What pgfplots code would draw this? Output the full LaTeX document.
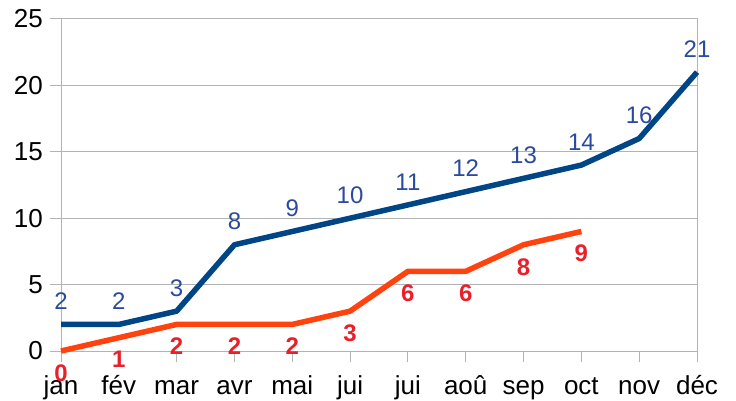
\documentclass[border=0pt]{standalone}
\usepackage{pgfplots}
\pgfplotsset{compat=1.18}
\usepackage{fontspec}
\setmainfont{Liberation Sans}
\definecolor{blueline}{HTML}{004586}
\definecolor{orangeline}{HTML}{FF420E}
\definecolor{bluelab}{HTML}{2A4A9C}
\definecolor{redlab}{HTML}{E8202A}
\definecolor{gridc}{HTML}{B3B3B3}
\begin{document}
\begin{tikzpicture}
\useasboundingbox (-61bp,-50bp) rectangle (675bp,351bp);
\begin{axis}[
  at={(0,0)}, anchor=south west,
  scale only axis, width=636bp, height=332bp,
  xmin=0, xmax=11, ymin=0, ymax=25,
  xtick={0,...,11},
  xticklabels={jan,fév,mar,avr,mai,jui,jui,aoû,sep,oct,nov,déc},
  ytick={0,5,...,25},
  ymajorgrids,
  grid style={gridc, line width=1bp},
  axis line style={gridc, line width=1bp},
  tick style={gridc, line width=1bp},
  tick align=outside, major tick length=11bp,
  xtick pos=bottom, ytick pos=left,
  tick label style={font=\fontsize{26bp}{30bp}\selectfont, text=black},
  xticklabel style={inner sep=0pt, text height=19bp, text depth=5bp, yshift=-13bp},
  yticklabel style={inner sep=0pt, xshift=-7bp},
  /pgf/number format/assume math mode=true,
  clip=false,
]
\addplot[blueline, line width=5.5bp, line join=round,
  nodes near coords,
  nodes near coords style={font=\fontsize{24bp}{28bp}\selectfont, text=bluelab, anchor=south, inner sep=0pt, yshift=12bp}]
  coordinates {(0,2) (1,2) (2,3) (3,8) (4,9) (5,10) (6,11) (7,12) (8,13) (9,14) (10,16) (11,21)};
\addplot[orangeline, line width=5.5bp, line join=round,
  nodes near coords,
  nodes near coords style={font=\fontsize{24bp}{28bp}\selectfont\bfseries, text=redlab, anchor=north, inner sep=0pt, yshift=-11bp}]
  coordinates {(0,0) (1,1) (2,2) (3,2) (4,2) (5,3) (6,6) (7,6) (8,8) (9,9)};
\end{axis}
\end{tikzpicture}
\end{document}
